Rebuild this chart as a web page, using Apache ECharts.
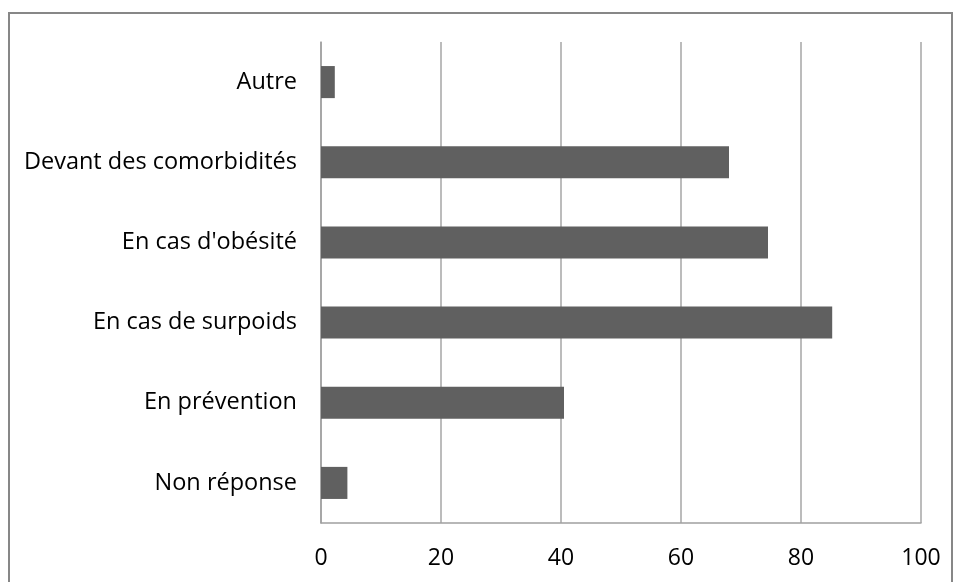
<!DOCTYPE html>
<html><head><meta charset="utf-8">
<script src="https://cdn.jsdelivr.net/npm/echarts@6/dist/echarts.min.js"></script>
<style>html,body{margin:0;padding:0;background:#fff}#c{width:960px;height:582px}</style>
</head><body><div id="c"></div>
<script>
const categories = ["Non réponse","En prévention","En cas de surpoids","En cas d'obésité","Devant des comorbidités","Autre"];
const values = [4.4, 40.5, 85.2, 74.5, 68, 2.3];
const xTicks = [0,20,40,60,80,100];
const chart = echarts.init(document.getElementById('c'));
chart.setOption({
  animation:false,
  graphic:[{type:'rect',shape:{x:9,y:13,width:943,height:600},style:{fill:'none',stroke:'#878787',lineWidth:2}}],
  grid:{left:321,right:39,top:42,bottom:59},
  xAxis:{type:'value',min:0,max:100,interval:20,
    axisLine:{show:true,lineStyle:{color:'#a0a0a0',width:1.5}},
    axisTick:{show:false},
    splitLine:{show:true,lineStyle:{color:'#a6a6a6',width:1.5}},
    axisLabel:{color:'#000',fontFamily:'Open Sans',fontSize:23,margin:24,
      formatter:v=>xTicks.includes(v)?String(v):''}},
  yAxis:{type:'category',data:categories,
    axisLine:{show:true,lineStyle:{color:'#a0a0a0',width:1.5}},
    axisTick:{show:false},
    axisLabel:{color:'#000',fontFamily:'Open Sans',fontSize:23.5,margin:24}},
  series:[{type:'bar',data:values,barCategoryGap:'60%',itemStyle:{color:'#606060'}}]
});
</script></body></html>
